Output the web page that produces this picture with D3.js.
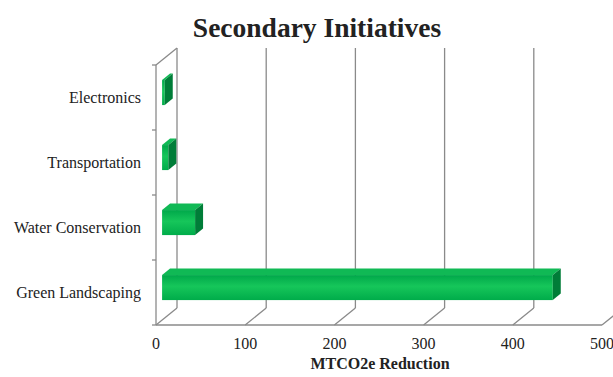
<!DOCTYPE html>
<html>
<head>
<meta charset="utf-8">
<script src="https://cdn.jsdelivr.net/npm/d3@7"></script>
<style>
  body { margin: 0; background: #fff; }
  svg { display: block; }
  text { font-family: "Liberation Serif", "Times New Roman", serif; fill: #222; }
</style>
</head>
<body>
<svg width="613" height="377"></svg>
<script>
var categories = ["Electronics", "Transportation", "Water Conservation", "Green Landscaping"];
var values = [3, 7, 37, 438];
var xTicks = [0, 100, 200, 300, 400, 500];

var svg = d3.select("svg");

var x = d3.scaleLinear().domain([0, 500]).range([156, 602]);
var y = d3.scaleBand().domain(categories).range([65, 325]).padding(0);

// depth offsets for the 3d look (back wall vs. front)
var depthX = 21, depthY = -17;
function px(v, z) { return x(v) + depthX * z; }
function py(yy, z) { return yy + depthY * z; }

var gridColor = "#8a8a8a";
var grid = svg.append("g").attr("class", "grid")
    .attr("stroke", gridColor).attr("stroke-width", 1.3).attr("fill", "none");

// back wall gridlines
xTicks.forEach(function(t) {
    grid.append("line")
        .attr("x1", px(t, 1)).attr("x2", px(t, 1))
        .attr("y1", py(y.range()[0], 1)).attr("y2", py(y.range()[1], 1));
    // floor diagonals
    grid.append("line")
        .attr("x1", px(t, 0)).attr("y1", py(y.range()[1], 0))
        .attr("x2", px(t, 1)).attr("y2", py(y.range()[1], 1));
});

// left wall
grid.append("line")
    .attr("x1", x(0)).attr("x2", x(0))
    .attr("y1", y.range()[0]).attr("y2", y.range()[1]);
grid.append("line")
    .attr("x1", px(0, 0)).attr("y1", py(y.range()[0], 0))
    .attr("x2", px(0, 1)).attr("y2", py(y.range()[0], 1));

// front axis line
grid.append("line")
    .attr("x1", x(0)).attr("x2", x(500))
    .attr("y1", y.range()[1]).attr("y2", y.range()[1]);

// category ticks
var yTickPos = categories.map(function(c) { return y(c); }).concat([y.range()[1]]);
yTickPos.forEach(function(p) {
    grid.append("line")
        .attr("x1", x(0) - 4).attr("x2", x(0))
        .attr("y1", p).attr("y2", p);
});

// gradients
var defs = svg.append("defs");
var gFront = defs.append("linearGradient").attr("id", "front")
    .attr("x1", 0).attr("y1", 0).attr("x2", 0).attr("y2", 1);
gFront.append("stop").attr("offset", "0%").attr("stop-color", "#00a84a");
gFront.append("stop").attr("offset", "45%").attr("stop-color", "#16c65a");
gFront.append("stop").attr("offset", "100%").attr("stop-color", "#00ac4a");

var z1 = 0.29, z2 = 0.67;
var barH = y.bandwidth() * 0.385;

var bars = svg.append("g").attr("class", "bars");
categories.forEach(function(c, i) {
    var v = values[i];
    var top = y(c) + (y.bandwidth() - barH) / 2;
    var bot = top + barH;
    var g = bars.append("g");
    // top face
    g.append("path")
        .attr("d", "M" + px(0, z1) + "," + py(top, z1) +
                   "L" + px(v, z1) + "," + py(top, z1) +
                   "L" + px(v, z2) + "," + py(top, z2) +
                   "L" + px(0, z2) + "," + py(top, z2) + "Z")
        .attr("fill", "#10b955");
    // front face
    g.append("rect")
        .attr("x", px(0, z1)).attr("y", py(top, z1))
        .attr("width", px(v, z1) - px(0, z1)).attr("height", barH)
        .attr("fill", "url(#front)");
    // right face
    g.append("path")
        .attr("d", "M" + px(v, z1) + "," + py(top, z1) +
                   "L" + px(v, z2) + "," + py(top, z2) +
                   "L" + px(v, z2) + "," + py(bot, z2) +
                   "L" + px(v, z1) + "," + py(bot, z1) + "Z")
        .attr("fill", "#007d38");
});

// x tick labels
svg.append("g").selectAll("text")
    .data(xTicks).enter().append("text")
    .attr("x", function(d) { return x(d); })
    .attr("y", 349)
    .attr("text-anchor", "middle")
    .attr("font-size", "16px")
    .text(function(d) { return d; });

// category labels
svg.append("g").selectAll("text")
    .data(categories).enter().append("text")
    .attr("x", 141)
    .attr("y", function(d) { return y(d) + y.bandwidth() / 2 + 5.5; })
    .attr("text-anchor", "end")
    .attr("font-size", "16px")
    .text(function(d) { return d; });

// title
svg.append("text")
    .attr("x", 317).attr("y", 37)
    .attr("text-anchor", "middle")
    .attr("font-size", "27.5px").attr("font-weight", "bold")
    .text("Secondary Initiatives");

// axis title
svg.append("text")
    .attr("x", 380).attr("y", 369)
    .attr("text-anchor", "middle")
    .attr("font-size", "16px").attr("font-weight", "bold")
    .text("MTCO2e Reduction");
</script>
</body>
</html>
